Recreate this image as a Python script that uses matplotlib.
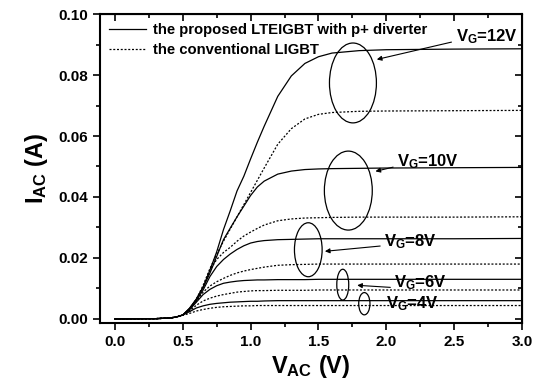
import matplotlib
matplotlib.use("Agg")
import matplotlib.pyplot as plt
from matplotlib.patches import Ellipse
from matplotlib.ticker import MultipleLocator

plt.rcParams['font.family'] = ['Liberation Sans', 'DejaVu Sans']
plt.rcParams['font.weight'] = 'bold'
plt.rcParams['mathtext.fontset'] = 'custom'
plt.rcParams['mathtext.rm'] = 'Liberation Sans:bold'
plt.rcParams['mathtext.it'] = 'Liberation Sans:bold'
plt.rcParams['mathtext.bf'] = 'Liberation Sans:bold'

# V_AC (V), shared by all curves
v_ac = [0.0, 0.3, 0.4, 0.45, 0.5, 0.55, 0.6, 0.65, 0.7, 0.75, 0.8, 0.85, 0.9, 0.95,
        1.0, 1.05, 1.1, 1.2, 1.3, 1.4, 1.5, 1.6, 1.8, 2.0, 2.5, 3.0]

# proposed LTEIGBT with p+ diverter (solid)
new_12 = [0, 0.0001, 0.0003, 0.0006, 0.0013, 0.0035, 0.0065, 0.0105, 0.016, 0.022, 0.0293, 0.0355, 0.042, 0.0468,
          0.0525, 0.058, 0.0632, 0.0730, 0.0797, 0.0838, 0.0860, 0.0872, 0.0880, 0.0883, 0.0885, 0.0886]
new_10 = [0, 0.0001, 0.0003, 0.0006, 0.0013, 0.0035, 0.0065, 0.0103, 0.015, 0.0205, 0.026, 0.0298, 0.0335, 0.037,
          0.0405, 0.0433, 0.0452, 0.0475, 0.0485, 0.0490, 0.0492, 0.0493, 0.0494, 0.0495, 0.0496, 0.0497]
new_8 = [0, 0.0001, 0.0003, 0.0006, 0.0013, 0.0033, 0.006, 0.0095, 0.0139, 0.0172, 0.0195, 0.0213, 0.0228, 0.0240,
         0.0249, 0.0254, 0.0257, 0.0260, 0.0261, 0.0262, 0.0263, 0.0263, 0.0263, 0.0263, 0.0263, 0.0264]
new_6 = [0, 0.0001, 0.0003, 0.0006, 0.0013, 0.003, 0.0055, 0.008, 0.0097, 0.0109, 0.0117, 0.0121, 0.0124, 0.0126,
         0.0127, 0.0128, 0.0128, 0.0129, 0.0129, 0.0129, 0.013, 0.013, 0.013, 0.013, 0.013, 0.013]
new_4 = [0, 0.0001, 0.0003, 0.0006, 0.0013, 0.0024, 0.0036, 0.0043, 0.0048, 0.0051, 0.0053, 0.0055, 0.0056, 0.0057,
         0.0058, 0.0058, 0.0059, 0.006, 0.006, 0.006, 0.006, 0.006, 0.006, 0.006, 0.006, 0.006]

# conventional LIGBT (dotted)
old_12 = [0, 0.0001, 0.0003, 0.0006, 0.0013, 0.003, 0.0065, 0.011, 0.0165, 0.0212, 0.0255, 0.0295, 0.0335, 0.0375,
          0.0415, 0.0455, 0.0495, 0.0573, 0.0624, 0.0656, 0.0671, 0.0677, 0.0681, 0.0682, 0.0683, 0.0684]
old_10 = [0, 0.0001, 0.0003, 0.0006, 0.0013, 0.003, 0.0062, 0.0105, 0.016, 0.0195, 0.0218, 0.0235, 0.0255, 0.0272,
          0.0285, 0.0297, 0.0308, 0.0322, 0.0328, 0.0331, 0.0332, 0.0333, 0.0334, 0.0334, 0.0334, 0.0335]
old_8 = [0, 0.0001, 0.0003, 0.0006, 0.0013, 0.0028, 0.0058, 0.0088, 0.0108, 0.0122, 0.0133, 0.0143, 0.0151, 0.0157,
         0.0162, 0.0166, 0.0170, 0.0176, 0.0178, 0.0179, 0.018, 0.018, 0.018, 0.018, 0.018, 0.018]
old_6 = [0, 0.0001, 0.0003, 0.0006, 0.0013, 0.0025, 0.0045, 0.0059, 0.0068, 0.0075, 0.008, 0.0084, 0.0088, 0.009,
         0.0092, 0.0093, 0.0093, 0.0094, 0.0094, 0.0094, 0.0095, 0.0095, 0.0095, 0.0095, 0.0095, 0.0095]
old_4 = [0, 0.0001, 0.0003, 0.0006, 0.0012, 0.0018, 0.0026, 0.0031, 0.0035, 0.0038, 0.004, 0.0041, 0.0042, 0.0043,
         0.0043, 0.0044, 0.0044, 0.0044, 0.0044, 0.0044, 0.0044, 0.0044, 0.0044, 0.0044, 0.0044, 0.0044]

new_curves = [new_12, new_10, new_8, new_6, new_4]
old_curves = [old_12, old_10, old_8, old_6, old_4]

# gate voltage labels: text, text pos, arrow tip (None = no arrow), ellipse centre / size
vg_labels = ["12V", "10V", "8V", "6V", "4V"]
label_pos = [(2.51, 0.0925), (2.08, 0.0515), (1.985, 0.0255), (2.06, 0.0118), (2.0, 0.0050)]
arrow_tip = [(1.91, 0.0849), (1.90, 0.0482), (1.527, 0.0221), (1.765, 0.0111), None]
ell_xy = [(1.754, 0.0774), (1.72, 0.0421), (1.425, 0.0227), (1.679, 0.01125), (1.838, 0.0050)]
ell_wh = [(0.346, 0.0262), (0.353, 0.0259), (0.204, 0.0177), (0.088, 0.0101), (0.083, 0.0073)]

fig = plt.figure(figsize=(5.39, 3.90), dpi=100)
ax = fig.add_axes([0.1855, 0.172, 0.783, 0.792])

for i in range(5):
    ax.plot(v_ac, new_curves[i], color='k', lw=0.9,
            label="the proposed LTEIGBT with p+ diverter" if i == 0 else None)
    ax.plot(v_ac, old_curves[i], color='k', lw=0.9, linestyle=(0, (1.6, 1.4)),
            label="the conventional LIGBT" if i == 0 else None)

for i in range(5):
    ax.add_patch(Ellipse(ell_xy[i], ell_wh[i][0], ell_wh[i][1], fill=False, ec='k', lw=0.9))
    txt = r'V$_{\rm G}$=' + vg_labels[i]
    ax.text(label_pos[i][0], label_pos[i][1], txt, fontsize=12, fontweight='bold', ha='left', va='center')
    if arrow_tip[i] is not None:
        ax.annotate('', xy=arrow_tip[i], xytext=(label_pos[i][0] - 0.01, label_pos[i][1] - 0.0015),
                    arrowprops=dict(arrowstyle='-|>', color='k', lw=0.8, mutation_scale=7))

ax.set_xlim(-0.11, 3.0)
ax.set_ylim(-0.0013, 0.10)
ax.xaxis.set_major_locator(MultipleLocator(0.5))
ax.xaxis.set_minor_locator(MultipleLocator(0.25))
ax.yaxis.set_major_locator(MultipleLocator(0.02))
ax.yaxis.set_minor_locator(MultipleLocator(0.01))
ax.set_xticks([0, 0.5, 1.0, 1.5, 2.0, 2.5, 3.0])
ax.set_xticklabels(['0.0', '0.5', '1.0', '1.5', '2.0', '2.5', '3.0'])
ax.set_yticks([0, 0.02, 0.04, 0.06, 0.08, 0.10])
ax.set_yticklabels(['0.00', '0.02', '0.04', '0.06', '0.08', '0.10'])

ax.tick_params(which='both', direction='out', width=1.2, labelsize=11)
ax.tick_params(which='major', length=5)
ax.tick_params(which='minor', length=3)
for s in ax.spines.values():
    s.set_linewidth(1.5)

# inward ticks on top and right
axt = ax.secondary_xaxis('top')
axt.set_xticks([0, 0.5, 1.0, 1.5, 2.0, 2.5, 3.0])
axt.xaxis.set_minor_locator(MultipleLocator(0.25))
axt.tick_params(which='both', direction='in', labeltop=False, width=1.2)
axt.tick_params(which='major', length=5)
axt.tick_params(which='minor', length=3)
axr = ax.secondary_yaxis('right')
axr.set_yticks([0, 0.02, 0.04, 0.06, 0.08, 0.10])
axr.yaxis.set_minor_locator(MultipleLocator(0.01))
axr.tick_params(which='both', direction='in', labelright=False, width=1.2)
axr.tick_params(which='major', length=5)
axr.tick_params(which='minor', length=3)

ax.set_xlabel(r'V$_{\rm AC}$ (V)', fontsize=17, fontweight='bold', labelpad=3)
ax.set_ylabel(r'I$_{\rm AC}$ (A)', fontsize=17, fontweight='bold', labelpad=6)

ax.legend(loc='upper left', frameon=False, handlelength=2.5, handletextpad=0.5,
          borderaxespad=0.2, labelspacing=0.4, prop={'weight': 'bold', 'size': 10.7})

fig.savefig('out.png', dpi=100)
